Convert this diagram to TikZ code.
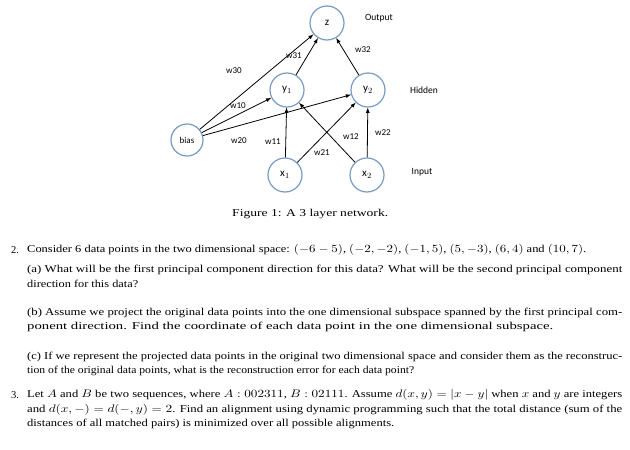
\documentclass[tikz,border=0pt]{standalone}
\usepackage{fontspec}
\setmainfont{Liberation Serif}
\newfontfamily\diag{Carlito}
\newcommand{\rw}[2]{\resizebox{#1pt}{\height}{#2}}
\definecolor{cblue}{RGB}{120,155,195}
\begin{document}
\begin{tikzpicture}[x=1pt,y=-1pt,
  neu/.style={circle,draw=cblue,line width=1.2pt,minimum size=34pt,inner sep=0pt,font=\diag\fontsize{11}{12}\selectfont},
  con/.style={-latex,line width=0.8pt},
  wl/.style={font=\diag\fontsize{9}{10}\selectfont,inner sep=1pt},
  tl/.style={font=\diag\fontsize{9.5}{10}\selectfont},
  ln/.style={anchor=west,inner sep=0pt,font=\fontsize{10.5}{12}\selectfont}]
\useasboundingbox (0,0) rectangle (630,450);
\node[neu] (z) at (327,23) {z};
\node[neu] (y1) at (287,90) {y$_1$};
\node[neu] (y2) at (368,90) {y$_2$};
\node[neu,minimum size=32pt,font=\diag\fontsize{9}{10}\selectfont] (b) at (187,140) {bias};
\node[neu] (x1) at (285,175) {x$_1$};
\node[neu] (x2) at (367,175) {x$_2$};
\draw[con] (b) -- (z);
\draw[con] (b) -- (y1);
\draw[con] (b) -- (y2);
\draw[con] (y1) -- (z);
\draw[con] (y2) -- (z);
\draw[con] (x1) -- (y1);
\draw[con] (x1) -- (y2);
\draw[con] (x2) -- (y1);
\draw[con] (x2) -- (y2);
\node[wl] at (234,71) {w30};
\node[wl] at (294,56) {w31};
\node[wl] at (363,50) {w32};
\node[wl] at (238,106) {w10};
\node[wl] at (239,141) {w20};
\node[wl] at (273,142) {w11};
\node[wl] at (322,153) {w21};
\node[wl] at (351,137) {w12};
\node[wl] at (383,133) {w22};
\node[tl] at (379,18) {Output};
\node[tl] at (424,90) {Hidden};
\node[tl] at (422,172) {Input};
\node[ln] (cap) at (232,214) {\rw{156}{Figure 1: A 3 layer network.}};
\node[ln] (n2) at (11,250) {2.};
\node[ln] (l1) at (27,250) {\rw{559}{Consider 6 data points in the two dimensional space: $(-6-5)$, $(-2,-2)$, $(-1,5)$, $(5,-3)$, $(6,4)$ and $(10,7)$.}};
\node[ln] (l2) at (27,270) {\rw{595}{(a) What will be the first principal component direction for this data? What will be the second principal component}};
\node[ln] (l3) at (27,284) {\rw{111}{direction for this data?}};
\node[ln] (l4) at (27,313) {\rw{595}{(b) Assume we project the original data points into the one dimensional subspace spanned by the first principal com-}};
\node[ln] (l5) at (27,327) {\rw{526}{ponent direction. Find the coordinate of each data point in the one dimensional subspace.}};
\node[ln] (l6) at (27,357) {\rw{595}{(c) If we represent the projected data points in the original two dimensional space and consider them as the reconstruc-}};
\node[ln] (l7) at (27,371) {\rw{387}{tion of the original data points, what is the reconstruction error for each data point?}};
\node[ln] (n3) at (11,395) {3.};
\node[ln] (l8) at (27,395) {\rw{595}{Let $A$ and $B$ be two sequences, where $A:002311$, $B:02111$. Assume $d(x,y)=|x-y|$ when $x$ and $y$ are integers}};
\node[ln] (l9) at (27,410) {\rw{595}{and $d(x,-)=d(-,y)=2$. Find an alignment using dynamic programming such that the total distance (sum of the}};
\node[ln] (l10) at (27,424) {\rw{367}{distances of all matched pairs) is minimized over all possible alignments.}};
\end{tikzpicture}
\end{document}
